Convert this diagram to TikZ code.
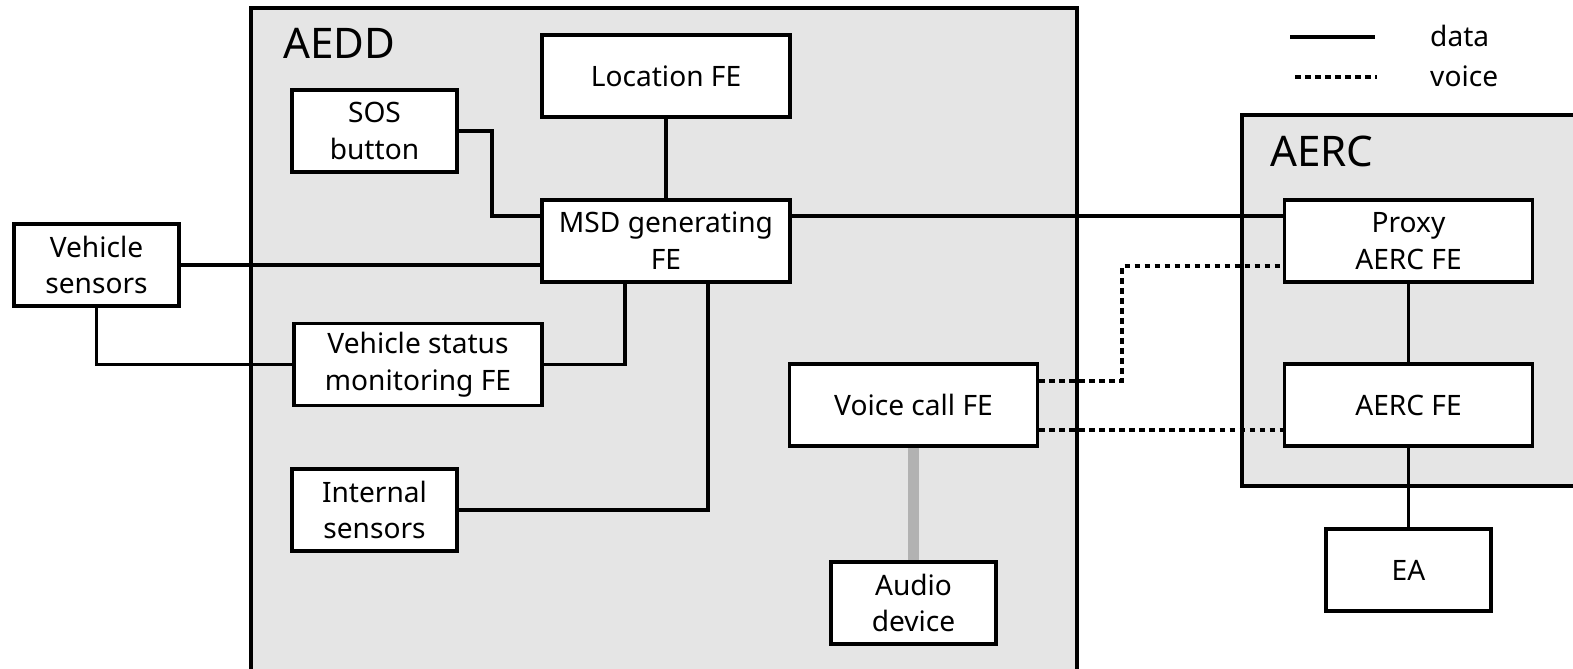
\documentclass[tikz,border=0pt]{standalone}
\usepackage{fontspec}
\setmainfont{Noto Sans}

\begin{document}
\begin{tikzpicture}[x=0.02cm,y=-0.02cm]
    \tikzset{
      fe/.style={draw, fill=white, line width=2pt, align=center,
        minimum width=4.96cm, minimum height=1.64cm, inner sep=0pt,
        font=\fontsize{16}{21}\selectfont},
      fesmall/.style={fe, minimum width=3.3cm},
      areabox/.style={draw, fill=black!10, line width=2pt},
      datalink/.style={line width=2pt},
      voicelink/.style={line width=2pt, dash pattern=on 3.2pt off 2.5pt},
      audiolink/.style={line width=6pt, black!30},
      areatitle/.style={anchor=west, font=\fontsize{24}{28}\selectfont},
      legendtext/.style={anchor=west, font=\fontsize{16}{20}\selectfont}
    }
    \useasboundingbox (0,0) rectangle (1573,669);
    % areas
    \draw [areabox] (251,8) rectangle (1077,690);
    \node [areatitle] (aedd) at (277,43) {AEDD};
    \draw [areabox] (1242,115) rectangle (1600,486);
    \node [areatitle] (aerc) at (1264,151) {AERC};
    % legend
    \coordinate (dataA) at (1290,37);
    \coordinate (dataB) at (1375,37);
    \coordinate (voiceA) at (1295,77);
    \coordinate (voiceB) at (1377,77);
    \draw [datalink] (dataA) -- (dataB);
    \draw [voicelink] (voiceA) -- (voiceB);
    \node [legendtext] (datatext) at (1424,36) {data};
    \node [legendtext] (voicetext) at (1424,76) {voice};
    % functional entities
    \node [fe] (loc) at (666,76) {Location FE};
    \node [fesmall] (sos) at (374.5,131) {SOS\\button};
    \node [fe] (msd) at (666,241) {MSD generating\\FE};
    \node [fesmall] (vsens) at (96.5,265) {Vehicle\\sensors};
    \node [fe] (vsm) at (418,364.5) {Vehicle status\\monitoring FE};
    \node [fesmall] (isens) at (374.5,510) {Internal\\sensors};
    \node [fe] (voice) at (913.5,405) {Voice call FE};
    \node [fesmall] (audio) at (913.5,603) {Audio\\device};
    \node [fe] (proxy) at (1408.5,241) {Proxy\\AERC FE};
    \node [fe] (aercfe) at (1408.5,405) {AERC FE};
    \node [fesmall] (ea) at (1408.5,570) {EA};
    % data links
    \draw [datalink] (loc.south) -- (msd.north);
    \draw [datalink] (sos.east) -- ++(33,0) |- ([yshift=0.5cm]msd.west);
    \draw [datalink] (vsens.east) -- (vsens.east -| msd.west);
    \draw [datalink] (vsens.south) |- (vsm.west);
    \draw [datalink] (vsm.east) -| ([xshift=-0.82cm]msd.south);
    \draw [datalink] (isens.east) -| ([xshift=0.84cm]msd.south);
    \draw [datalink] ([yshift=0.5cm]msd.east) -- ([yshift=0.5cm]proxy.west);
    \draw [datalink] (proxy.south) -- (aercfe.north);
    \draw [datalink] (aercfe.south) -- (ea.north);
    % voice links
    \draw [voicelink] ([yshift=0.48cm]voice.east) -- ++(83,0) |- ([yshift=-0.5cm]proxy.west);
    \draw [voicelink] ([yshift=-0.5cm]voice.east) -- ([yshift=-0.5cm]aercfe.west);
    \draw [audiolink] (voice.south) -- (audio.north);
\end{tikzpicture}
\end{document}
